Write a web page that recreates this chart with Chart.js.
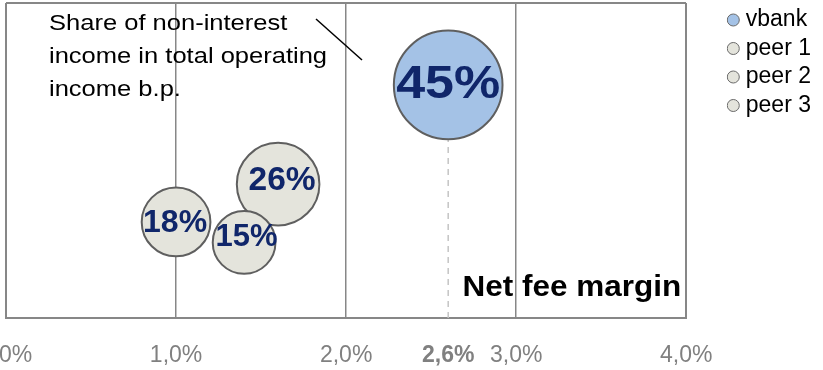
<!DOCTYPE html>
<html>
<head>
<meta charset="utf-8">
<script src="https://cdn.jsdelivr.net/npm/chart.js@4.4.1/dist/chart.umd.min.js"></script>
<style>
  html, body { margin: 0; padding: 0; background: #fff; }
  #wrap { width: 823px; height: 370px; }
</style>
</head>
<body>
<div id="wrap"><canvas id="feeChart"></canvas></div>
<script>
// series: net fee margin (x, in %), position on the hidden vertical axis,
// and share of non-interest income (shown as bubble size + label)
const seriesNames = ['vbank', 'peer 1', 'peer 2', 'peer 3'];
const feeMargin = [2.6, 1.0, 1.4, 1.6];
const posY = [7.4, 3.05, 2.4, 4.25];
const shareNonInterest = [45, 18, 15, 26];

const xTicks = [0, 1, 2, 2.6, 3, 4];
const xTickLabels = ['0,0%', '1,0%', '2,0%', '2,6%', '3,0%', '4,0%'];

// styling of the bubbles and their labels
const fillColors = ['#a4c2e6', '#e4e4dc', '#e4e4dc', '#e4e4dc'];
const labelSizes = [46, 32, 31, 33.5];
const labelShift = [[0, 0], [-1, 1], [2.5, -5], [4, -3]];
const gridColor = '#878787';

// bubble area follows the share
function bubbleRadius(share) {
    return 8.1 * Math.sqrt(share);
}

const datasets = seriesNames.map(function (name, i) {
    return {
        label: name,
        data: [{ x: feeMargin[i], y: posY[i], v: shareNonInterest[i] }],
        radius: bubbleRadius(shareNonInterest[i]),
        backgroundColor: fillColors[i],
        borderColor: '#5f5f5f',
        borderWidth: 2,
        order: 1
    };
});

// dashed drop line under vbank
datasets.push({
    type: 'line',
    label: 'drop',
    data: [{ x: feeMargin[0], y: 0 }, { x: feeMargin[0], y: posY[0] }],
    borderColor: '#c4c4c4',
    borderWidth: 1.5,
    borderDash: [6, 5],
    pointRadius: 0,
    fill: false,
    order: 5
});

const labelPlugin = {
    id: 'labelPlugin',
    afterDatasetsDraw(chart) {
        const ctx = chart.ctx;
        const area = chart.chartArea;

        // percentages inside the bubbles
        seriesNames.forEach(function (name, i) {
            const el = chart.getDatasetMeta(i).data[0];
            ctx.save();
            ctx.fillStyle = '#10266a';
            ctx.textAlign = 'center';
            ctx.textBaseline = 'middle';
            ctx.font = 'bold ' + labelSizes[i] + 'px "Liberation Sans", Arial, sans-serif';
            ctx.translate(el.x + labelShift[i][0], el.y + labelShift[i][1]);
            ctx.scale(i === 0 ? 1.13 : 1.0, 1);
            ctx.fillText(shareNonInterest[i] + '%', 0, 0);
            ctx.restore();
        });

        // explanation text + pointer line
        ctx.save();
        ctx.fillStyle = '#000';
        ctx.font = '22px "Liberation Sans", Arial, sans-serif';
        ctx.textBaseline = 'alphabetic';
        const lines = ['Share of non-interest', 'income in total operating', 'income b.p.'];
        lines.forEach(function (t, k) {
            ctx.save();
            ctx.translate(area.left + 43, area.top + 27 + k * 33);
            ctx.scale(1.16, 1);
            ctx.fillText(t, 0, 0);
            ctx.restore();
        });
        ctx.strokeStyle = '#000';
        ctx.lineWidth = 1.5;
        ctx.beginPath();
        ctx.moveTo(area.left + 310, area.top + 16);
        ctx.lineTo(area.left + 356, area.top + 57);
        ctx.stroke();

        // axis caption inside the plot
        ctx.font = 'bold 30px "Liberation Sans", Arial, sans-serif';
        ctx.textAlign = 'right';
        ctx.translate(area.right - 5, area.bottom - 22);
        ctx.scale(1.05, 1);
        ctx.fillText('Net fee margin', 0, 0);
        ctx.restore();
    }
};

new Chart(document.getElementById('feeChart'), {
    type: 'bubble',
    data: { datasets: datasets },
    plugins: [labelPlugin],
    options: {
        responsive: true,
        maintainAspectRatio: false,
        animation: false,
        events: [],
        layout: { autoPadding: false, padding: { left: 6, top: 3, right: 2, bottom: 0 } },
        scales: {
            x: {
                type: 'linear',
                min: 0,
                max: 4,
                afterBuildTicks: function (scale) {
                    scale.ticks = xTicks.map(function (v) { return { value: v }; });
                },
                afterFit: function (scale) {
                    scale.paddingLeft = 0;
                    scale.paddingRight = 0;
                    scale.height = 52;
                },
                ticks: {
                    autoSkip: false,
                    maxRotation: 0,
                    padding: 24,
                    color: '#808080',
                    font: function (c) {
                        return {
                            family: '"Liberation Sans", Arial, sans-serif',
                            size: 23,
                            weight: c.tick && c.tick.value === 2.6 ? 'bold' : 'normal'
                        };
                    },
                    callback: function (value, index) {
                        return xTickLabels[index];
                    }
                },
                grid: {
                    drawTicks: false,
                    color: function (c) {
                        return c.tick && c.tick.value === 2.6 ? 'rgba(0,0,0,0)' : gridColor;
                    },
                    lineWidth: function (c) {
                        return c.tick && (c.tick.value === 0 || c.tick.value === 4) ? 2 : 1.5;
                    }
                },
                border: { display: true, color: gridColor, width: 2 }
            },
            y: {
                type: 'linear',
                position: 'right',
                min: 0,
                max: 10,
                afterBuildTicks: function (scale) {
                    scale.ticks = [{ value: 0 }, { value: 10 }];
                },
                afterFit: function (scale) {
                    scale.width = 40.5;
                },
                ticks: { display: false },
                grid: { drawTicks: false, color: gridColor, lineWidth: 2 },
                border: { display: false }
            }
        },
        plugins: {
            tooltip: { enabled: false },
            legend: {
                position: 'right',
                align: 'start',
                labels: {
                    usePointStyle: true,
                    pointStyle: 'circle',
                    boxWidth: 2,
                    boxHeight: 8.5,
                    padding: 5.5,
                    color: '#000',
                    font: { family: '"Liberation Sans", Arial, sans-serif', size: 23 },
                    filter: function (item) {
                        return item.text !== 'drop';
                    },
                    generateLabels: function (chart) {
                        return Chart.defaults.plugins.legend.labels.generateLabels(chart).map(function (l) {
                            l.lineWidth = 1;
                            l.strokeStyle = '#6a6a6a';
                            return l;
                        });
                    }
                }
            }
        }
    }
});
</script>
</body>
</html>
